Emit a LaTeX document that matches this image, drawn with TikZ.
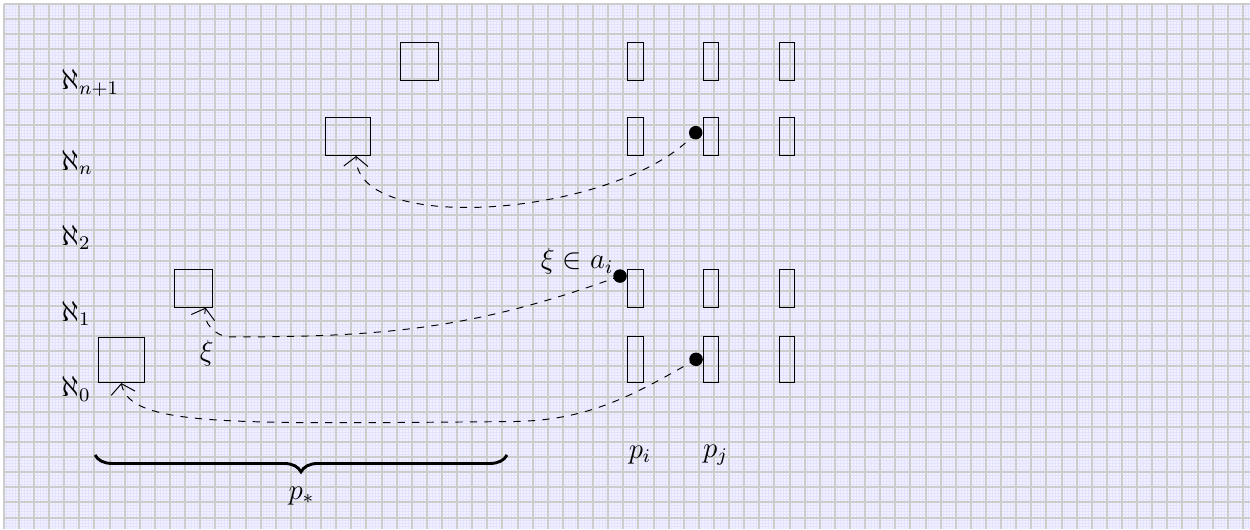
\documentclass[tikz,border=0pt]{standalone}
\usepackage{amsfonts,amsmath,amssymb}
\usetikzlibrary{decorations.pathreplacing,arrows.meta}

\begin{document}
\begin{tikzpicture}[x=2.2mm,y=2.2mm,font=\large,
  sq/.style={draw,inner sep=0pt,minimum width=5.5mm,minimum height=5.5mm},
  wsq/.style={draw,inner sep=0pt,minimum width=6.6mm,minimum height=5.5mm},
  col/.style={draw,inner sep=0pt,minimum width=2.2mm,minimum height=5.5mm},
  conn/.style={dashed,-{Straight Barb[length=4pt,width=10pt]}}]
\useasboundingbox (-0.25,-0.76) rectangle (82.47,34.25);
\fill[blue!5] (0,-0.76) rectangle (82.47,34);
\draw[step=0.44mm,blue!11,line width=0.4pt] (0,-0.76) grid (82.47,34);
\draw[step=2.2mm,black!20,line width=0.8pt] (0,-0.76) grid (82.47,34);

\node[anchor=base west] (a0) at (3.25,8) {$\aleph_0$};
\node[anchor=base west] (a1) at (3.25,13) {$\aleph_1$};
\node[anchor=base west] (a2) at (3.25,18) {$\aleph_2$};
\node[anchor=base west] (an) at (3.25,23) {$\aleph_n$};
\node[anchor=base west] (am) at (3.25,28.3) {$\aleph_{n+1}$};

\node[wsq,minimum height=6.6mm] (s0) at (7.78,10.43) {};
\node[sq] (s1) at (12.54,15.17) {};
\node[wsq] (sn) at (22.77,25.21) {};
\node[sq] (sm) at (27.52,30.2) {};

\foreach \x/\c in {41.8/i,46.8/j,51.8/k}{
  \node[col,minimum height=6.6mm] (\c0) at (\x,10.46) {};
  \foreach \y/\r in {15.18/1,25.2/n,30.2/m}
    \node[col] (\c\r) at (\x,\y) {};
}

% tocke in pomozne tocke
\coordinate (dn) at (45.79,25.47);
\coordinate (di) at (40.78,15.98);
\coordinate (d0) at (45.81,10.47);
\coordinate (xc) at (15,11.95);
\coordinate (bc) at (33.3,6.35);
\coordinate (bl) at (6.04,4.14);
\coordinate (br) at (33.3,4.14);

\draw[conn] (dn) .. controls (41,20) and (23.2,18.5) .. ([xshift=1.2mm]sn.south);
\draw[conn] (di) to[out=200,in=0] (xc) to[out=180,in=-105] ([xshift=1.8mm]s1.south);
\draw[conn] (d0) to[out=210,in=0] (bc) .. controls (15,6.2) and (8.3,6) .. (s0.south);

\node (xa) at (37.94,16.95) {$\xi\in a_i$};
\node (xi) at (13.43,10.89) {$\xi$};

\draw[decorate,decoration={brace,mirror,amplitude=7pt},very thick] (bl) -- (br);
\node (ps) at (19.7,1.45) {$p_*$};
\node (pi) at (42.1,4.14) {$p_i$};
\node (pj) at (47.1,4.14) {$p_j$};

\foreach \point in {dn,di,d0}
\fill (\point) circle (2.8pt);
\end{tikzpicture}
\end{document}
